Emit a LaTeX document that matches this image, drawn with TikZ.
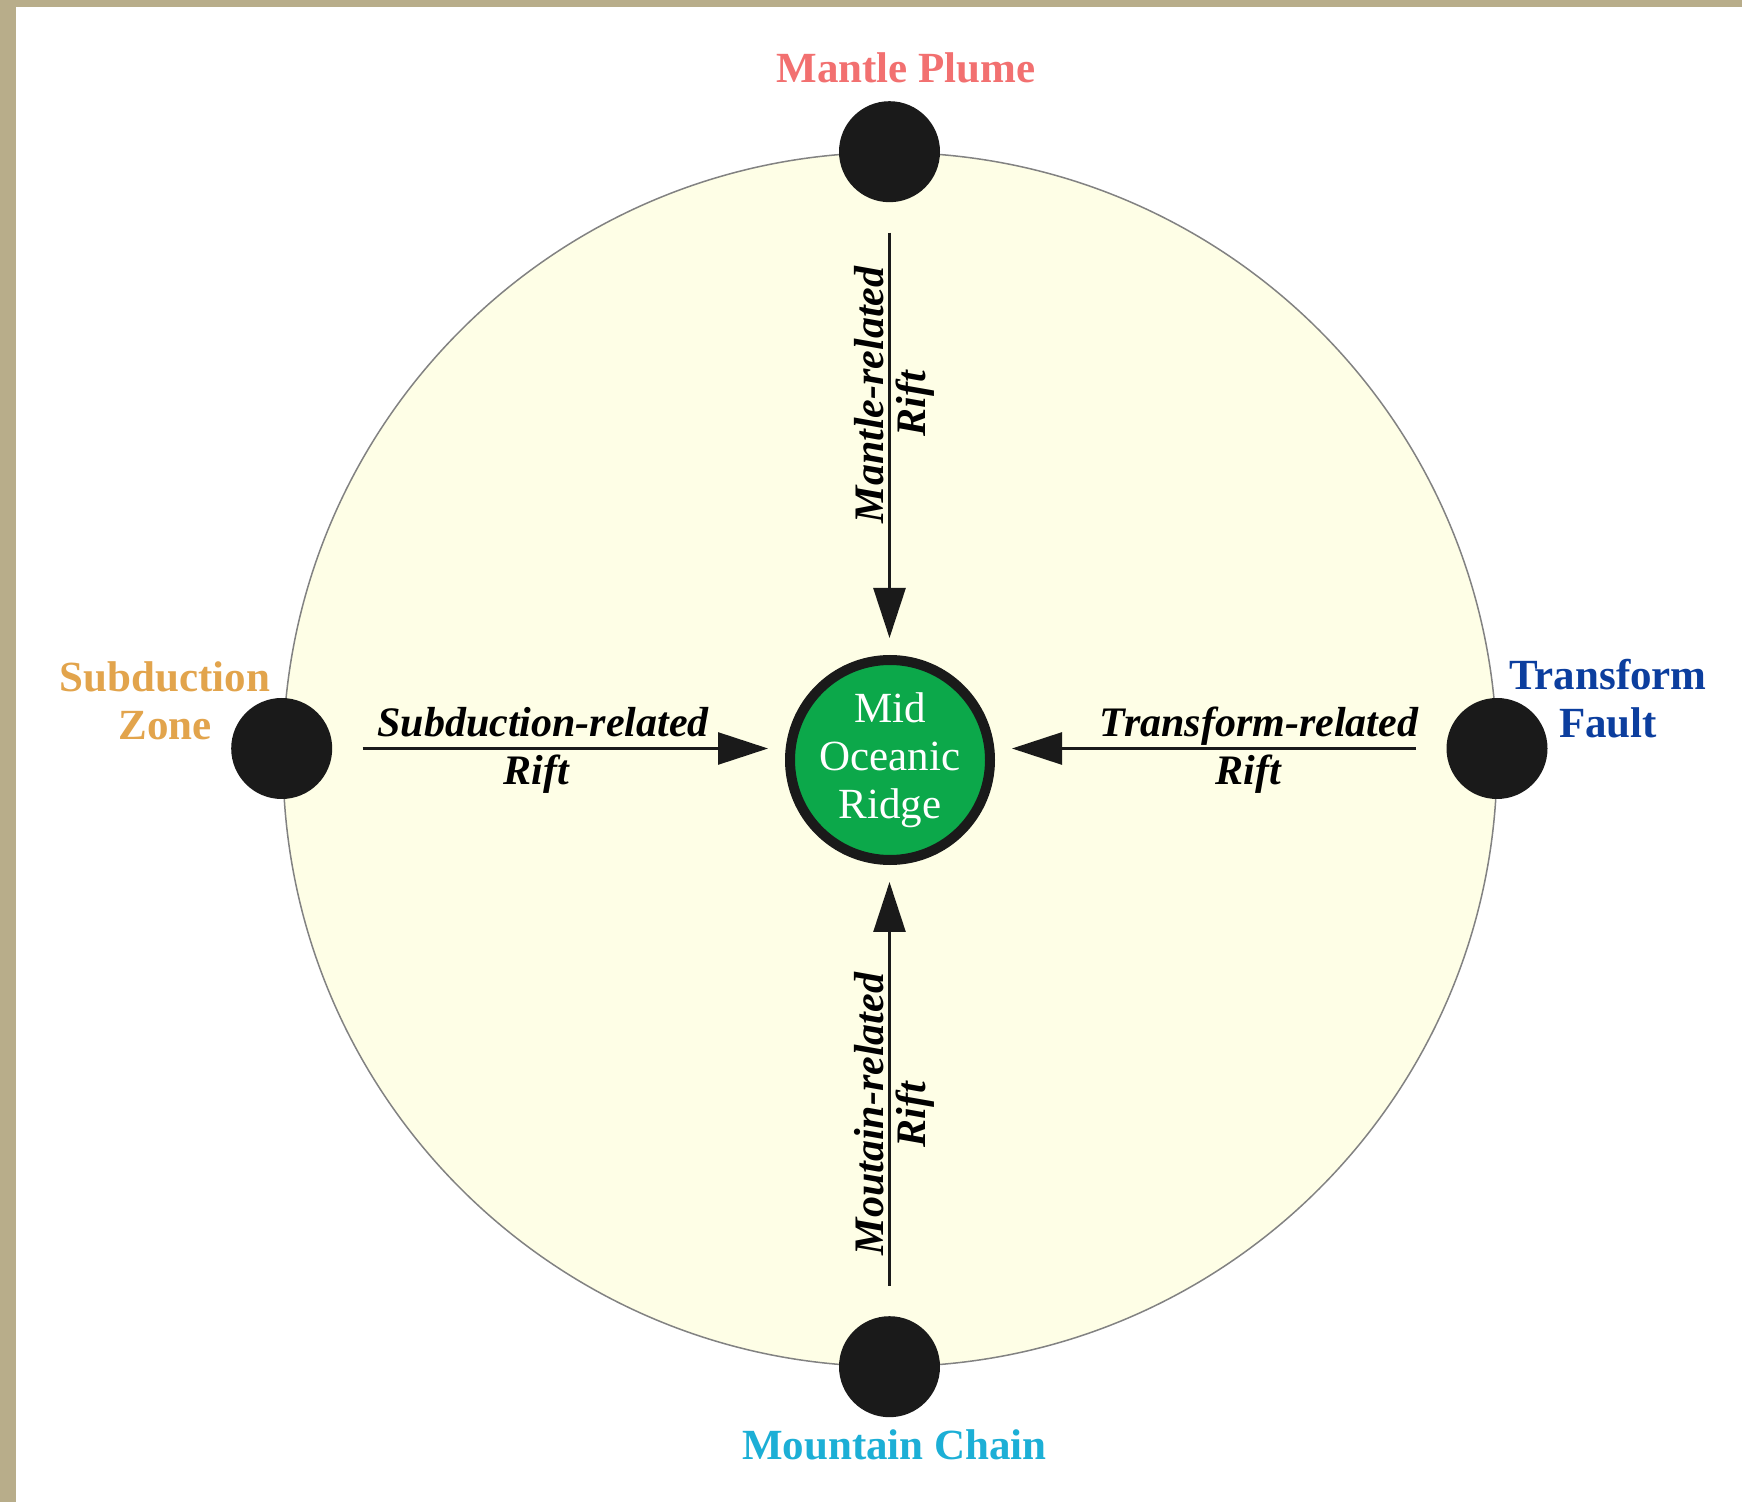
\documentclass[tikz,border=0pt]{standalone}
\usepackage{fontspec}
\setmainfont{Liberation Serif}
\usetikzlibrary{arrows.meta}
\definecolor{framec}{RGB}{184,173,138}
\definecolor{discfill}{RGB}{254,254,230}
\definecolor{discline}{RGB}{130,130,130}
\definecolor{dotc}{RGB}{26,26,26}
\definecolor{morgreen}{RGB}{12,168,74}
\definecolor{mpc}{RGB}{242,112,112}
\definecolor{mcc}{RGB}{28,175,214}
\definecolor{szc}{RGB}{226,164,76}
\definecolor{tfc}{RGB}{12,62,158}
\tikzset{
  disc/.style={circle, draw=discline, line width=0.75pt, fill=discfill, minimum size=607pt, inner sep=0pt},
  dotnode/.style={circle, fill=dotc, minimum size=50.5pt, inner sep=0pt},
  mornode/.style={circle, fill=morgreen, draw=dotc, line width=5pt, minimum size=100pt, inner sep=0pt,
    text=white, align=center, font=\fontsize{21.5}{24}\selectfont},
  titlenode/.style={font=\fontsize{21.5}{24}\selectfont\bfseries, align=center},
  riftlabel/.style={font=\fontsize{21}{24}\selectfont\bfseries\itshape, anchor=base, inner sep=0pt},
  arr/.style={line width=1.35pt, draw=dotc, -{Triangle[length=25pt,width=16pt]}, shorten <=15pt, shorten >=61pt}
}
\begin{document}
\begin{tikzpicture}[x=0.5pt,y=0.5pt]
\useasboundingbox (0,0) rectangle (1742,-1502);
\fill[white] (0,0) rectangle (1742,-1502);
\fill[framec] (0,0) rectangle (16,-1502);
\fill[framec] (0,0) rectangle (1742,-7);

\node[disc] (disc) at (890,-759.5) {};

\node[dotnode] (mp) at (889.5,-151.7) {};
\node[dotnode] (mc) at (889.5,-1366.7) {};
\node[dotnode] (sz) at (281.7,-748.5) {};
\node[dotnode] (tf) at (1497,-748.5) {};

\node[mornode] (mor) at (890,-760) {Mid\\Oceanic\\Ridge};

\draw[arr] (sz) -- (sz -| mor);
\draw[arr] (tf) -- (tf -| mor);
\draw[arr] (mp) -- (mp |- mor);
\draw[arr] (mc) -- (mc |- mor);

\node[titlenode, text=mpc, anchor=base] (mpl) at (906,-82.7) {Mantle Plume};
\node[titlenode, text=mcc, anchor=base] (mcl) at (894.5,-1459) {Mountain Chain};
\node[titlenode, text=szc] (szl) at (165,-700.5) {Subduction\\Zone};
\node[titlenode, text=tfc] (tfl) at (1608,-698.5) {Transform\\Fault};

\node[riftlabel] (sr1) at (543,-737) {Subduction-related};
\node[riftlabel] (sr2) at (536,-785) {Rift};
\node[riftlabel] (tr1) at (1259,-737) {Transform-related};
\node[riftlabel] (tr2) at (1248,-785) {Rift};
\node[riftlabel, rotate=90] (mr1) at (883,-395) {Mantle-related};
\node[riftlabel, rotate=90] (mr2) at (925,-404) {Rift};
\node[riftlabel, rotate=90] (cr1) at (883,-1114) {Moutain-related};
\node[riftlabel, rotate=90] (cr2) at (925,-1115) {Rift};
\end{tikzpicture}
\end{document}
